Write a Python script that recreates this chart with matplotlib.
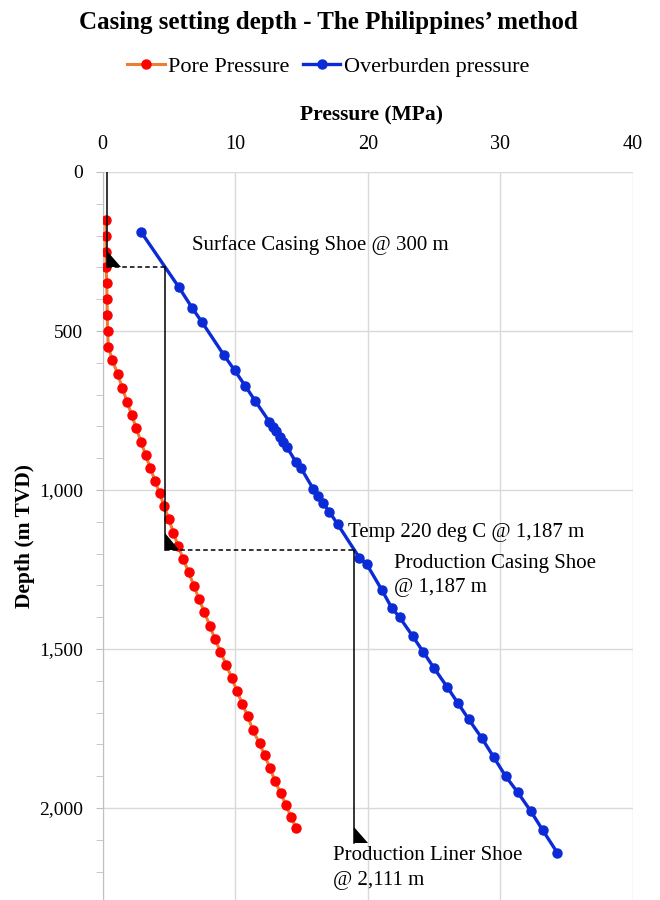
import matplotlib
matplotlib.use("Agg")
import matplotlib.pyplot as plt
import numpy as np

plt.rcParams['font.family'] = ['Liberation Serif', 'DejaVu Serif']

# pore pressure profile (MPa vs m TVD)
pore_depth = [150, 200, 250, 300, 350, 400, 450, 500, 550,
              592, 636, 680, 722, 764, 806, 848, 890, 930, 970, 1010, 1050,
              1092, 1134, 1176, 1218, 1259, 1302, 1344, 1383, 1427, 1467, 1508,
              1549, 1591, 1633, 1673, 1712, 1756, 1796, 1834, 1874, 1914, 1953,
              1990, 2028, 2063]
pore_p = [0.26, 0.26, 0.26, 0.28, 0.32, 0.34, 0.36, 0.38, 0.44,
          0.75, 1.15, 1.5, 1.85, 2.2, 2.55, 2.9, 3.25, 3.6, 3.95, 4.3, 4.65,
          5.0, 5.35, 5.7, 6.1, 6.5, 6.9, 7.28, 7.68, 8.09, 8.46, 8.89,
          9.32, 9.75, 10.15, 10.55, 10.96, 11.34, 11.84, 12.22, 12.62, 13.0, 13.43,
          13.83, 14.21, 14.61]

# overburden profile
ob_depth = [188, 363, 428, 472, 576, 624, 673, 719, 785, 803, 814, 832, 848, 864,
            911, 930, 997, 1018, 1042, 1068, 1108, 1213, 1233, 1314, 1370, 1400,
            1460, 1510, 1560, 1620, 1670, 1720, 1780, 1840, 1900, 1950, 2010,
            2070, 2141]
ob_p = [2.9, 5.77, 6.77, 7.5, 9.16, 9.97, 10.77, 11.5, 12.58, 12.88, 13.08, 13.39,
        13.64, 13.89, 14.57, 14.95, 15.9, 16.28, 16.65, 17.1, 17.74, 19.37, 19.92,
        21.06, 21.8, 22.4, 23.4, 24.2, 25.0, 26.0, 26.8, 27.6, 28.6, 29.5, 30.4,
        31.3, 32.3, 33.2, 34.3]

# casing shoes
shoe_depth = [300, 1187, 2111]
conductor_p = 0.36

fig = plt.figure(figsize=(6.6, 9), dpi=100)
ax = fig.add_axes([102.5 / 660, 0, 530.5 / 660, 728 / 900])

ax.plot(pore_p, pore_depth, color='#ED7D31', lw=2.2, marker='o', ms=6.5,
        mfc='#FF0000', mec='#FF0000', label='Pore Pressure', zorder=3)
ax.plot(ob_p, ob_depth, color='#0A2BD6', lw=2.4, marker='o', ms=6.5,
        mfc='#0A2BD6', mec='#0A2BD6', label='Overburden pressure', zorder=3)

# casing lines: each string hangs from where the previous shoe meets the overburden
def ob_at(d):
    return float(np.interp(d, ob_depth, ob_p))

tri_w, tri_h = 1.06, 53
top = 0
xs = conductor_p
for i, d in enumerate(shoe_depth):
    ax.plot([xs, xs], [top, d], color='black', lw=1.1, zorder=4)
    ax.fill([xs, xs, xs + tri_w], [d - tri_h, d, d], color='black', lw=0, zorder=4)
    if i < len(shoe_depth) - 1:
        nx = ob_at(d)
        ax.plot([xs, nx], [d, d], color='black', lw=1.1, ls=(0, (3, 2)), zorder=4)
        xs, top = nx, d

ax.text(6.75, 231, 'Surface Casing Shoe @ 300 m', fontsize=15, va='center')
ax.text(18.5, 1135, 'Temp 220 deg C @ 1,187 m', fontsize=15, va='center')
ax.text(22.0, 1230, 'Production Casing Shoe', fontsize=15, va='center')
ax.text(22.0, 1305, '@ 1,187 m', fontsize=15, va='center')
ax.text(17.4, 2150, 'Production Liner Shoe', fontsize=15, va='center')
ax.text(17.4, 2227, '@ 2,111 m', fontsize=15, va='center')

ax.set_xlim(0, 40)
ax.set_ylim(2289, 0)
ax.xaxis.tick_top()
ax.set_xticks([0, 10, 20, 30, 40])
ax.set_yticks([0, 500, 1000, 1500, 2000])
ax.set_yticks(np.arange(100, 2300, 100), minor=True)
ax.set_yticklabels(['0', '500', '1,000', '1,500', '2,000'])
ax.tick_params(axis='x', length=0, pad=13, labelsize=14.5)
ax.tick_params(axis='y', which='both', direction='out', length=5, color='#bfbfbf',
               pad=9, labelsize=14)
ax.grid(True, which='major', color='#d9d9d9', lw=1)
for s in ['top', 'right', 'bottom']:
    ax.spines[s].set_visible(False)
ax.spines['left'].set_color('#bfbfbf')

fig.text(328 / 660, 1 - 22 / 900, "Casing setting depth - The Philippines\u2019 method",
         ha='center', va='center', fontsize=18, fontweight='bold')
fig.text(372 / 660, 1 - 115 / 900, 'Pressure (MPa)', ha='center', va='center',
         fontsize=15.5, fontweight='bold')
fig.text(25 / 660, 1 - 536 / 900, 'Depth (m TVD)', ha='center', va='center',
         rotation=90, fontsize=15.5, fontweight='bold')

fig.legend(loc='center', bbox_to_anchor=(328 / 660, 1 - 67 / 900), ncol=2, frameon=False,
           fontsize=16, handlelength=1.7, handletextpad=0.15, columnspacing=0.6)

fig.savefig('out.png', dpi=100)
